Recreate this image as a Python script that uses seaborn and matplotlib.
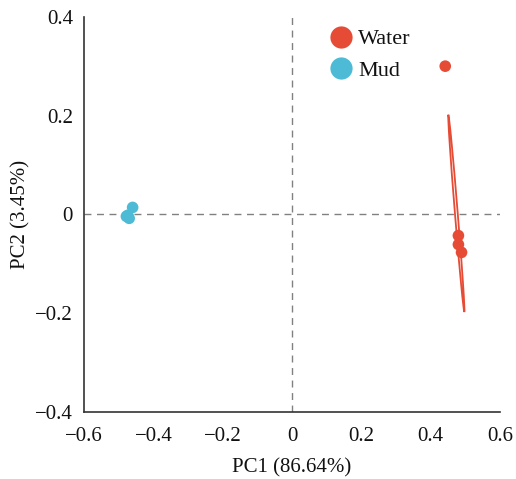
import matplotlib
matplotlib.use("Agg")
import matplotlib.pyplot as plt
import numpy as np
import pandas as pd
import seaborn as sns
from matplotlib.patches import Ellipse

# PCA scores
water_pc1 = [0.442, 0.480, 0.480, 0.489]
water_pc2 = [0.300, -0.043, -0.061, -0.077]
mud_pc1 = [-0.460, -0.478, -0.470, -0.474]
mud_pc2 = [0.014, -0.004, -0.008, -0.002]

groups = ["Water", "Mud"]
colors = ["#e64b35", "#4dbbd5"]

# confidence ellipse for Water (center, width, height, angle)
ellipse_center = (0.474, 0.002)
ellipse_width = 0.008
ellipse_height = 0.402
ellipse_angle = 6.6

df = pd.DataFrame({
    "PC1": water_pc1 + mud_pc1,
    "PC2": water_pc2 + mud_pc2,
    "group": ["Water"] * len(water_pc1) + ["Mud"] * len(mud_pc1),
})

sns.set_style("white")
plt.rcParams["font.family"] = ["Liberation Serif", "DejaVu Serif"]
plt.rcParams["text.color"] = "#111111"
plt.rcParams["axes.labelcolor"] = "#111111"
plt.rcParams["xtick.labelcolor"] = "#111111"
plt.rcParams["ytick.labelcolor"] = "#111111"

fig = plt.figure(figsize=(5.16, 4.79), dpi=100)
ax = fig.add_axes([0.163, 0.140, 0.806, 0.825])

ax.axhline(0, color="#808080", linestyle=(0, (5, 4)), linewidth=1, zorder=1)
ax.axvline(0, color="#808080", linestyle=(0, (5, 4)), linewidth=1, zorder=1)

ax.add_patch(Ellipse(ellipse_center, ellipse_width, ellipse_height, angle=ellipse_angle,
                     fill=False, edgecolor=colors[0], linewidth=1.3, zorder=2))

sns.scatterplot(data=df, x="PC1", y="PC2", hue="group", hue_order=groups,
                palette=colors, s=70, edgecolor="none", ax=ax, zorder=3)

ax.set_xlim(-0.6, 0.6)
ax.set_ylim(-0.4, 0.4)
ax.set_xticks([-0.6, -0.4, -0.2, 0, 0.2, 0.4, 0.6])
ax.set_yticks([-0.4, -0.2, 0, 0.2, 0.4])
ax.set_xticklabels(["\u22120.6", "\u22120.4", "\u22120.2", "0", "0.2", "0.4", "0.6"])
ax.set_yticklabels(["\u22120.4", "\u22120.2", "0", "0.2", "0.4"])
ax.tick_params(axis="x", pad=11)
ax.tick_params(axis="y", pad=8)
ax.tick_params(direction="in", length=4, width=1, color="#333333", labelsize=15)
ax.set_xlabel("PC1 (86.64%)", fontsize=15, labelpad=9)
ax.set_ylabel("PC2 (3.45%)", fontsize=15, labelpad=3)

for side in ["top", "right"]:
    ax.spines[side].set_visible(False)
for side in ["left", "bottom"]:
    ax.spines[side].set_color("#333333")
    ax.spines[side].set_linewidth(1.2)

handles, labels = ax.get_legend_handles_labels()
for h in handles:
    h.set_markersize(16)
ax.legend(handles, labels, loc="upper left", bbox_to_anchor=(0.515, 1.02),
          frameon=False, fontsize=16, handletextpad=-0.2, labelspacing=0.5)

fig.savefig("out.png", dpi=100)
